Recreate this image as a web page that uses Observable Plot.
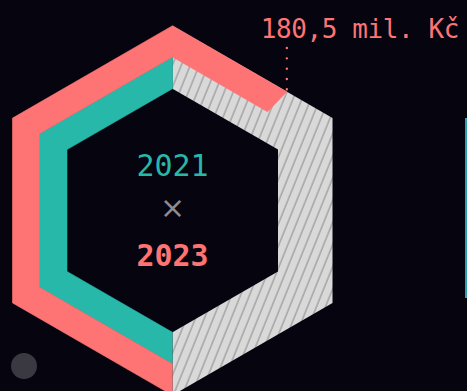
<!DOCTYPE html>
<html><head><meta charset="utf-8">
<script src="https://cdn.jsdelivr.net/npm/d3@7"></script>
<script src="https://cdn.jsdelivr.net/npm/@observablehq/plot@0.6"></script>
<style>
html,body{margin:0;padding:0;background:#05040f;width:467px;height:391px;overflow:hidden}
#wrap{position:relative;width:467px;height:391px}
#wrap svg{position:absolute;left:0;top:0}
.knob{position:absolute;left:11px;top:353px;width:26px;height:26px;border-radius:50%;background:#3a3840}
.edge{position:absolute;left:465px;top:118px;width:2px;height:180px;background:#2a9fae}
</style></head><body><div id="wrap"><div class="knob"></div><div class="edge"></div></div>
<script>
// ---- data ----
const years = ["2021", "2023"];
const values = [145.1, 180.5];          // mil. Kč
const scaleMax = 290.2;                 // full hexagon
const labelText = "180,5 mil. Kč";
const separator = "×";

// ---- layout ----
const W = 467, H = 391, CX = 172, CY = 210;
const AP_OUT = 160, AP_MID = 133, AP_IN = 105.5; // apothems of the rings
const colors = {"2021": "#27b8aa", "2023": "#fe7474"};

const angle = d3.scaleLinear([0, scaleMax], [180, 540]); // degrees clockwise from top

function hexPoint(theta, ap) {
  const t = ((theta % 360) + 360) % 360;
  let k = Math.floor(t / 60); if (k > 5) k = 5;
  const c = k * 60 + 30;
  const r = ap / Math.cos((t - c) * Math.PI / 180);
  const a = theta * Math.PI / 180;
  return [r * Math.sin(a), -r * Math.cos(a)];
}
function segment(id, a0, a1, apIn, apOut) {
  const angs = [a0];
  for (let v = Math.ceil(a0 / 60) * 60; v < a1; v += 60) if (v > a0) angs.push(v);
  angs.push(a1);
  const outer = angs.map(a => hexPoint(a, apOut));
  const inner = angs.slice().reverse().map(a => hexPoint(a, apIn));
  return outer.concat(inner).map(([x, y]) => ({id, x, y}));
}

const rest = segment("rest", angle(d3.min(values)), angle(scaleMax), AP_IN, AP_OUT);
const bands = [
  segment(years[0], angle(0), angle(values[0]), AP_IN, AP_MID),
  segment(years[1], angle(0), angle(values[1]), AP_MID, AP_OUT)
].flat();

const endAng = angle(values[1]);
const endPt = hexPoint(endAng, AP_OUT);
const leader = [{x: endPt[0], y1: endPt[1] - 2, y2: endPt[1] - 44}];
const label = [{x: endPt[0], y: endPt[1] - 54, text: labelText}];
const centerTexts = [
  {y: -35, text: years[0], fill: colors[years[0]], w: "normal"},
  {y: 55, text: years[1], fill: colors[years[1]], w: "bold"}
];

const chart = Plot.plot({
  width: W, height: H, margin: 0,
  style: {background: "transparent"},
  x: {domain: [-CX, W - CX], range: [0, W], axis: null},
  y: {domain: [-CY, H - CY], range: [0, H], axis: null},
  marks: [
    Plot.line(rest, {x: "x", y: "y", z: "id", fill: "url(#hatch)", stroke: null, curve: "linear"}),
    Plot.line(bands, {x: "x", y: "y", z: "id", fill: d => colors[d.id], stroke: d => colors[d.id], strokeWidth: 0.6, curve: "linear"}),
    Plot.ruleX(leader, {x: "x", y1: "y1", y2: "y2", stroke: colors[years[1]], strokeWidth: 2.4, strokeDasharray: "0,10.3", strokeLinecap: "round"}),
    Plot.text(label, {x: "x", y: "y", text: "text", dx: -26, textAnchor: "start", lineAnchor: "bottom",
      fill: colors[years[1]], fontSize: 26, fontFamily: "DejaVu Sans Mono"}),
    Plot.text(centerTexts.filter(d => d.w === "normal"), {x: () => 0, y: "y", text: "text", fill: "fill", lineAnchor: "bottom",
      fontSize: 30, fontFamily: "DejaVu Sans Mono"}),
    Plot.text(centerTexts.filter(d => d.w === "bold"), {x: () => 0, y: "y", text: "text", fill: "fill", lineAnchor: "bottom",
      fontSize: 30, fontWeight: "bold", fontFamily: "DejaVu Sans Mono"}),
    Plot.text([separator], {x: () => 0, y: () => -2, text: d => d, fill: "#8c8c8c", fontSize: 30, fontFamily: "DejaVu Sans", lineAnchor: "middle"})
  ]
});
chart.setAttribute("fill", "none");
const svg = d3.select(chart);
svg.selectAll("text").filter(function() { return this.textContent === labelText; }).style("letter-spacing", "-0.4px");
const defs = svg.insert("defs", ":first-child");
const pat = defs.append("pattern").attr("id", "hatch").attr("patternUnits", "userSpaceOnUse")
  .attr("width", 8.3).attr("height", 8.3).attr("patternTransform", "rotate(22)");
pat.append("rect").attr("width", 8.3).attr("height", 8.3).attr("fill", "#d9d9d9");
pat.append("line").attr("x1", 1).attr("x2", 1).attr("y1", 0).attr("y2", 8.3).attr("stroke", "#979797").attr("stroke-width", 1.2);
document.getElementById("wrap").appendChild(chart);
</script>
</body></html>
